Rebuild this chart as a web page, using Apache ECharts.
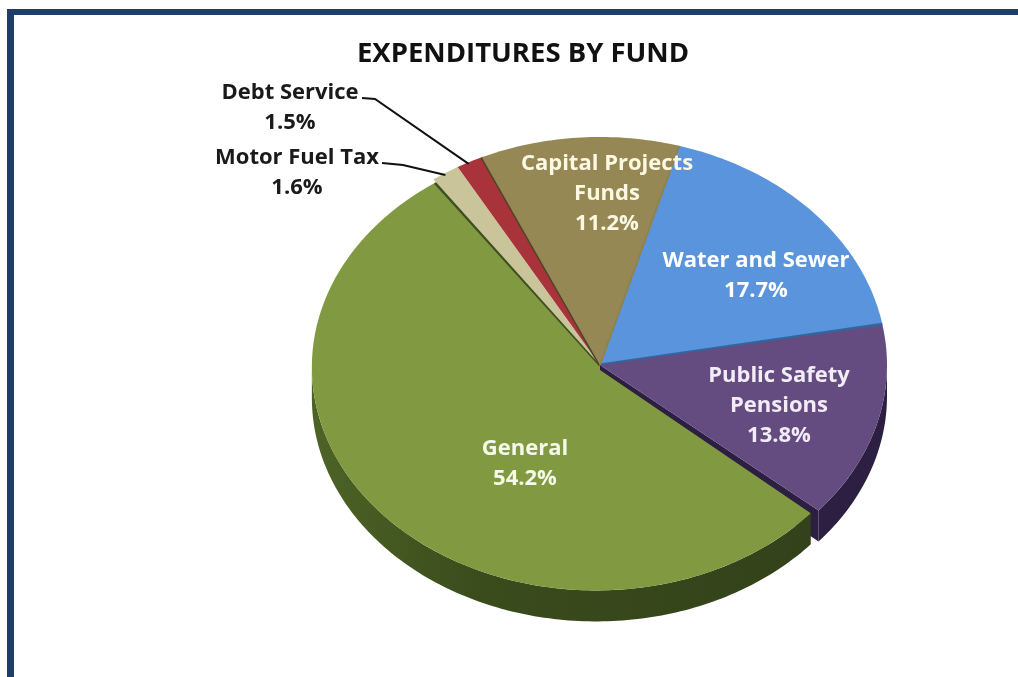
<!DOCTYPE html>
<html><head><meta charset="utf-8">
<style>html,body{margin:0;padding:0;background:#fff}#c{width:1018px;height:677px}</style>
<script src="https://cdn.jsdelivr.net/npm/echarts@6/dist/echarts.min.js"></script>
</head><body><div id="c"></div>
<script>
var funds = ['Water and Sewer','Public Safety\nPensions','General','Motor Fuel Tax','Debt Service','Capital Projects\nFunds'];
var shares = [17.7,13.8,54.2,1.6,1.5,11.2];
var title = 'EXPENDITURES BY FUND';

var topColors  = ['#5a94dc','#654c80','#819a42','#c9c49a','#a8333a','#968855'];
var wallColors = ['#2f5f96','#2c1f42','#34431a','#6f6b4e','#5e1c20','#5d5230'];
var boundaryColors = ['#2f679f',null,'#3f4f20','#d8d4b4','#4e4528','#8f8250'];
var boundaryWidths = [3,0,3,1,3,2];
var textColors = ['#ffffff','#f2ecf6','#f6f8ea','#1a1a1a','#1a1a1a','#fdf8e2'];
var labelCentres = [[756,276],[779,406],[525,464],[297,173],[290,108],[607,194]];
var leaders = {3:[[382,163],[403,165]],4:[[362,98],[375,99]]};
var sliceShift = [[0,0],[0,0],[-4,2],[0,0],[0,0],[0,0]];
var apexShift  = [[0,0],[0,0],[0,5],[0,0],[0,0],[0,0]];
var sliceScale = [[1,1],[1,0.985],[0.99,0.98],[1,1],[1,1],[1,1]];
var sliceTrim  = [[0,0],[0,1],[1.5,1],[0,0],[0,0],[0,0]];
var geo = {cx:600,cy:365,rx:287,ry:228,depth:31,start:16};

function rad(d){return d*Math.PI/180;}
function arc(i,a,b,dy){
  var s=sliceShift[i],k=sliceScale[i],pts=[],n=Math.max(2,Math.ceil(Math.abs(b-a)));
  for(var j=0;j<=n;j++){var t=rad(a+(b-a)*j/n);
    pts.push([geo.cx+s[0]+geo.rx*k[0]*Math.sin(t),geo.cy+s[1]+dy-geo.ry*k[1]*Math.cos(t)]);}
  return pts;
}
function bounds(i){
  var a=geo.start;for(var j=0;j<i;j++)a+=shares[j]*3.6;
  return [a,a+shares[i]*3.6];
}
function renderSlice(params,api){
  var i=params.dataIndex,b=bounds(i),a0=b[0]+sliceTrim[i][0],a1=b[0]+api.value(0)*3.6+sliceTrim[i][1],s=apexShift[i];
  var apex=[geo.cx+s[0],geo.cy+s[1]],centre=[geo.cx,geo.cy],kids=[];
  var f0=Math.max(a0,90),f1=Math.min(a1,270);
  if(f1>f0){
    var e=arc(i,a1,a1,0)[0];
    if(a1<180)kids.push({type:'polygon',shape:{points:[apex,e,[e[0],e[1]+geo.depth],[apex[0],apex[1]+geo.depth]]},style:{fill:wallColors[i]}});
    var up=arc(i,f0,f1,0),dn=arc(i,f0,f1,geo.depth).reverse();
    var fill=wallColors[i];
    if(i===2)fill=new echarts.graphic.LinearGradient(0,0,1,0,[{offset:0,color:'#4d6326'},{offset:0.35,color:'#3a4b1c'},{offset:1,color:'#33421a'}]);
    kids.push({type:'polygon',shape:{points:up.concat(dn)},style:{fill:fill}});
  }
  kids.push({type:'polygon',shape:{points:[apex].concat(arc(i,a0,a1,0)).concat([centre])},style:{fill:topColors[i]}});
  if(boundaryColors[i]){
    var p=arc(i,a1,a1,0)[0];
    kids.push({type:'line',shape:{x1:centre[0],y1:centre[1],x2:p[0],y2:p[1]},style:{stroke:boundaryColors[i],lineWidth:boundaryWidths[i]}});
  }
  return {type:'group',children:kids};
}
function renderLabel(params,api){
  var i=params.dataIndex,c=labelCentres[i],kids=[];
  kids.push({type:'text',x:c[0],y:c[1],style:{
    text:funds[i]+'\n'+api.value(0).toFixed(1)+'%',
    font:'bold 22px "Open Sans"',fill:textColors[i],align:'center',verticalAlign:'middle',lineHeight:30}});
  if(leaders[i]){
    var m=(bounds(i)[0]+bounds(i)[1])/2,e=arc(i,m,m,0)[0];
    kids.push({type:'polyline',shape:{points:leaders[i].concat([[e[0]+(i===4?-1:0),e[1]+2]])},style:{stroke:'#111',lineWidth:2,fill:null}});
  }
  return {type:'group',children:kids};
}
var rows=shares.map(function(v){return [v];});
var chart=echarts.init(document.getElementById('c'),null,{renderer:'canvas'});
chart.setOption({
  animation:false,
  backgroundColor:'#ffffff',
  title:{text:title,left:518,top:35,textAlign:'center',textStyle:{fontFamily:'Open Sans',fontWeight:'bold',fontSize:27.5,color:'#111'}},
  graphic:[
    {type:'rect',shape:{x:7,y:9,width:1011,height:6},style:{fill:'#1f3f68'},silent:true},
    {type:'rect',shape:{x:7,y:9,width:7,height:668},style:{fill:'#1f3f68'},silent:true}
  ],
  series:[
    {type:'custom',coordinateSystem:'none',data:rows,renderItem:renderSlice,silent:true,z:2},
    {type:'custom',coordinateSystem:'none',data:rows,renderItem:renderLabel,silent:true,z:3}
  ]
});
</script></body></html>
